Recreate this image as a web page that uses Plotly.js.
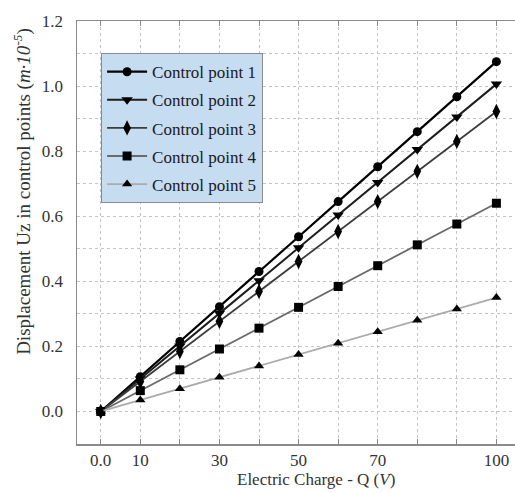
<!DOCTYPE html>
<html><head><meta charset="utf-8">
<script src="https://cdn.plot.ly/plotly-3.0.1.min.js"></script>
<style>html,body{margin:0;padding:0;background:#fff;font-family:'Liberation Serif',serif}#chart{width:515px;height:493px;font-family:'Liberation Serif',serif}#note{position:absolute;left:0;top:0;width:1px;height:1px;overflow:hidden;color:#fff;font-family:'Liberation Serif',serif;font-size:1px}</style>
</head><body><div id="chart"></div><div id="note">&nbsp;</div>
<script>
const charge = [0, 10, 20, 30, 40, 50, 60, 70, 80, 90, 100];
const seriesNames = ['Control point 1', 'Control point 2', 'Control point 3', 'Control point 4', 'Control point 5'];
const cp1 = [0, 0.107, 0.215, 0.322, 0.430, 0.537, 0.645, 0.752, 0.860, 0.967, 1.075];
const cp2 = [0, 0.100, 0.201, 0.302, 0.402, 0.503, 0.604, 0.704, 0.805, 0.905, 1.006];
const cp3 = [0, 0.092, 0.184, 0.277, 0.369, 0.461, 0.553, 0.645, 0.738, 0.830, 0.922];
const cp4 = [0, 0.064, 0.128, 0.192, 0.256, 0.320, 0.384, 0.448, 0.512, 0.576, 0.640];
const cp5 = [0, 0.035, 0.070, 0.105, 0.140, 0.175, 0.210, 0.245, 0.280, 0.315, 0.350];
const xTickVals = [0, 10, 30, 50, 70, 100];
const xTickText = ['0.0', '10', '30', '50', '70', '100'];
const xTitle = 'Electric Charge - Q (<i>V</i>)';
const yTitle = 'Displacement Uz in control points (<i>m·10<sup>-5</sup></i>)';

const values = [cp1, cp2, cp3, cp4, cp5];
const lineColors = ['#000000', '#1e1e1e', '#3c3c3c', '#6a6a6a', '#ababab'];
const lineWidths = [2.2, 2, 1.8, 1.8, 1.8];
const symbols = ['circle', 'triangle-down', 'diamond-tall', 'square', 'triangle-up'];
const sizes = [9, 10, 11, 9, 9];

const traces = values.map((v, i) => ({
  x: charge, y: v, name: seriesNames[i], type: 'scatter', mode: 'lines+markers',
  legendgroup: 'g' + i,
  line: {color: lineColors[i], width: lineWidths[i]},
  marker: {symbol: symbols[i], size: sizes[i], color: '#000'}
}));

const fam = 'Liberation Serif';
const layout = {
  width: 515, height: 493,
  margin: {l: 77, r: 0, t: 21, b: 49},
  paper_bgcolor: '#fff', plot_bgcolor: '#fff',
  font: {family: fam, size: 17, color: '#333'},
  showlegend: true,
  legend: {
    x: 0.055, y: 0.924, xanchor: 'left', yanchor: 'top',
    bgcolor: '#c6dcf1', bordercolor: '#8a8a8a', borderwidth: 1,
    font: {size: 17, color: '#1a1a24'},
    tracegroupgap: 3, traceorder: 'grouped', itemwidth: 40
  },
  xaxis: {
    range: [-6, 104.7], tickvals: xTickVals, ticktext: xTickText,
    showgrid: true, gridcolor: '#c4c4c4', griddash: 'dot', gridwidth: 1,
    minor: {dtick: 10, tick0: 0, showgrid: true, gridcolor: '#c4c4c4', griddash: 'dot', ticks: 'inside', ticklen: 5, tickcolor: '#888'},
    ticks: 'inside', ticklen: 5, tickcolor: '#888',
    showline: true, linecolor: '#8a8a8a', linewidth: 1.5, mirror: 'allticks',
    zeroline: false
  },
  yaxis: {
    range: [-0.1, 1.2], dtick: 0.2, tick0: 0, tickformat: '.1f',
    showgrid: true, gridcolor: '#c4c4c4', griddash: 'dot', gridwidth: 1,
    minor: {dtick: 0.1, tick0: 0, showgrid: true, gridcolor: '#c4c4c4', griddash: 'dot'},
    ticks: '', ticklabelstandoff: 9, showline: true, linecolor: '#8a8a8a', linewidth: 1.5, mirror: false,
    zeroline: false
  },
  annotations: [
    {text: xTitle, xref: 'paper', yref: 'paper', x: 0.545, y: -0.085, xanchor: 'center', yanchor: 'middle',
     showarrow: false, font: {size: 17, color: '#333'}},
    {text: yTitle, xref: 'paper', yref: 'paper', x: -0.126, y: 0.598, xanchor: 'center', yanchor: 'middle',
     textangle: -90, showarrow: false, font: {size: 19, color: '#333'}}
  ]
};

Plotly.newPlot('chart', traces, layout, {displayModeBar: false, staticPlot: true}).then(gd => {
  gd.querySelectorAll('text').forEach(t => t.setAttribute('font-family', fam));
  document.getElementById('note').textContent = '\u00a0';
});
</script></body></html>
